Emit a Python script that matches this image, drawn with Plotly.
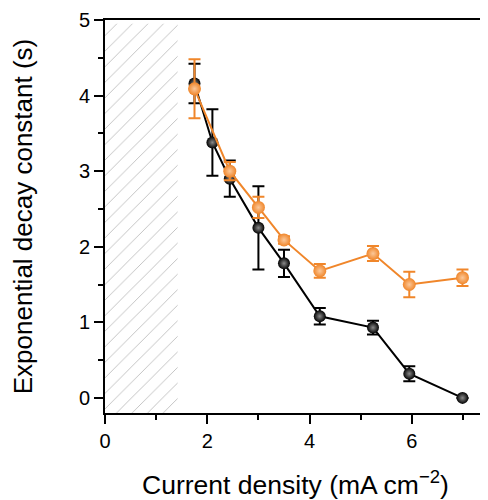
import plotly.graph_objects as go

# current density (mA cm^-2)
x_black = [1.75, 2.10, 2.44, 3.00, 3.50, 4.20, 5.24, 5.95, 6.99]
y_black = [4.16, 3.38, 2.90, 2.25, 1.78, 1.08, 0.93, 0.32, 0.00]
err_black = [0.26, 0.44, 0.24, 0.55, 0.18, 0.11, 0.09, 0.10, 0.0]

x_orange = [1.75, 2.44, 3.00, 3.50, 4.20, 5.24, 5.95, 6.99]
y_orange = [4.09, 3.00, 2.52, 2.09, 1.68, 1.91, 1.50, 1.59]
err_orange = [0.39, 0.12, 0.14, 0.05, 0.09, 0.10, 0.17, 0.11]

# hatched (inaccessible) region
hatch_x = [0, 1.42, 1.42, 0, 0]
hatch_y = [-0.2, -0.2, 4.95, 4.95, -0.2]

font = "Arial, Liberation Sans, sans-serif"
orange = "#f0862a"

fig = go.Figure()

fig.add_trace(go.Scatter(
    x=hatch_x, y=hatch_y, mode="lines", fill="toself",
    line=dict(width=0), fillcolor="rgba(0,0,0,0)",
    fillpattern=dict(shape="/", fgcolor="#7a7a7a", bgcolor="white", size=11, solidity=0.08),
    hoverinfo="skip", showlegend=False,
))

fig.add_trace(go.Scatter(
    x=x_black, y=y_black, mode="lines+markers",
    line=dict(color="black", width=2),
    marker=dict(size=12, color="black",
                gradient=dict(type="radial", color="#8a8a8a"),
                line=dict(width=0)),
    error_y=dict(type="data", array=err_black, color="black", thickness=2, width=6),
    showlegend=False,
))

fig.add_trace(go.Scatter(
    x=x_orange, y=y_orange, mode="lines+markers",
    line=dict(color=orange, width=2),
    marker=dict(size=13, color=orange,
                gradient=dict(type="radial", color="#fbc89a"),
                line=dict(width=0)),
    error_y=dict(type="data", array=err_orange, color=orange, thickness=2, width=6),
    showlegend=False,
))

axis_common = dict(
    showline=True, linecolor="black", linewidth=2, mirror=True,
    ticks="outside", ticklen=9, tickwidth=2, tickcolor="black",
    showgrid=False, zeroline=False, automargin=False,
    tickfont=dict(family=font, size=20, color="black"),
)

fig.update_xaxes(
    range=[0, 7.45], tickvals=[0, 2, 4, 6],
    minor=dict(ticks="outside", ticklen=5, tickwidth=2, tickcolor="black", dtick=1, tick0=0),
    title=dict(text="Current density (mA cm<sup>−2</sup>)", font=dict(family=font, size=26.5, color="black"),
               standoff=25),
    **axis_common,
)
fig.update_yaxes(
    range=[-0.2, 5], tickvals=[0, 1, 2, 3, 4, 5],
    minor=dict(ticks="outside", ticklen=5, tickwidth=2, tickcolor="black", dtick=0.5, tick0=0),
    title=dict(text="Exponential decay constant (s)", font=dict(family=font, size=26, color="black"),
               standoff=45),
    **axis_common,
)

# the page adds an 8px body margin, so the figure is sized to fit the window
fig.update_layout(
    width=480, height=492,
    margin=dict(l=97, r=2, t=12, b=87),
    plot_bgcolor="white", paper_bgcolor="white",
)

fig.write_html("out.html")
